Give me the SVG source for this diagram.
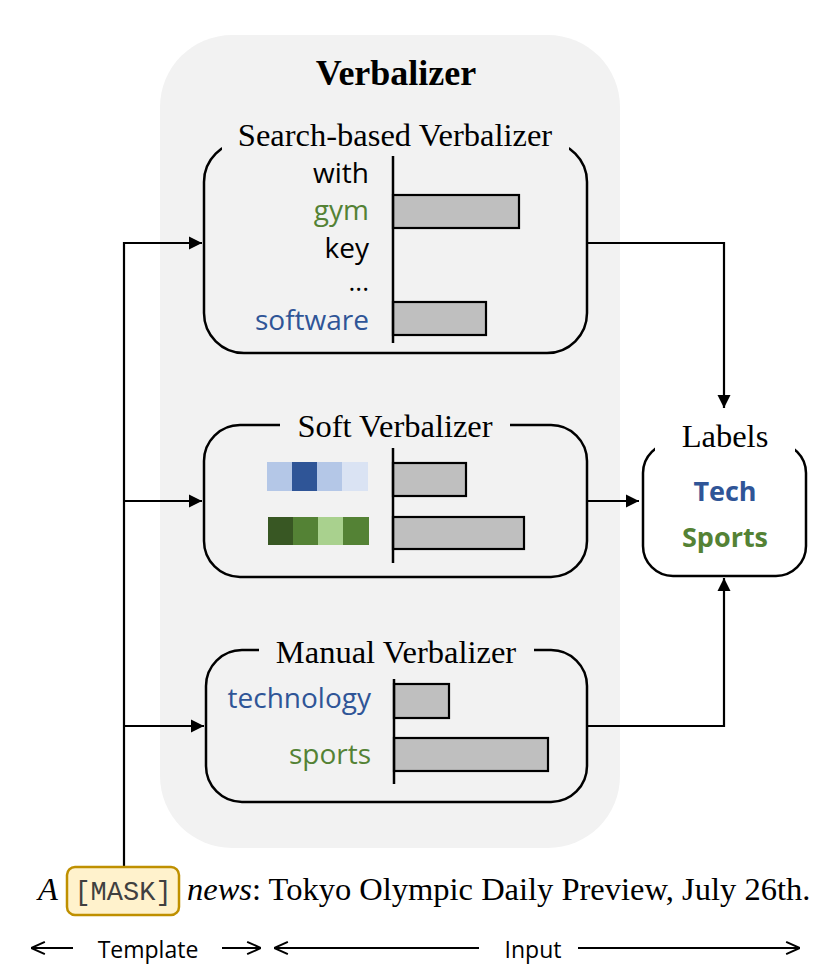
<svg xmlns="http://www.w3.org/2000/svg" width="831" height="980" viewBox="0 0 831 980">
<style>
.serif{font-family:"Liberation Serif","Times New Roman",serif;fill:#000}
.title{font-size:32.5px;text-anchor:middle}
.sans{font-family:"Open Sans","Liberation Sans",sans-serif}
.word{font-size:28px;text-anchor:end}
.box{fill:none;stroke:#000;stroke-width:2.5}
.bar{fill:#BFBFBF;stroke:#000;stroke-width:2.2}
.axis{stroke:#000;stroke-width:2.5}
.conn{fill:none;stroke:#000;stroke-width:2.2}
.blue{fill:#2F5597}
.green{fill:#548235}
</style>
<defs>
<marker id="ah" viewBox="0 0 10 10" refX="10" refY="5" markerWidth="6" markerHeight="6" orient="auto" markerUnits="strokeWidth">
<path d="M0,0 L10,5 L0,10 z" fill="#000"/>
</marker>
<marker id="sa" viewBox="0 0 10 10" refX="10" refY="5" markerWidth="7" markerHeight="7" orient="auto" markerUnits="strokeWidth">
<path d="M1,1 L10,5 L1,9" fill="none" stroke="#000" stroke-width="1.3"/>
</marker>
</defs>
<rect width="831" height="980" fill="#fff"/>

<g id="verbalizer">
<rect x="160" y="35" width="460" height="813" rx="72" fill="#F2F2F2"/>
<text class="serif" x="396" y="85" font-size="36" font-weight="bold" text-anchor="middle">Verbalizer</text>
</g>

<g id="search">
<rect class="box" x="204" y="142" width="383" height="211" rx="40"/>
<rect x="222" y="125" width="347" height="30" fill="#F2F2F2"/>
<text class="serif title" x="395" y="146">Search-based Verbalizer</text>
<text class="sans word" x="369" y="183" fill="#000">with</text>
<text class="sans word green" x="369" y="220">gym</text>
<text class="sans word" x="369" y="258" fill="#000">key</text>
<text class="sans" x="369" y="291" font-size="26" text-anchor="end" fill="#000">...</text>
<text class="sans word blue" x="369" y="330">software</text>
<rect class="bar" x="393" y="195" width="126" height="33"/>
<rect class="bar" x="393" y="302" width="93" height="33"/>
<line class="axis" x1="393" y1="156" x2="393" y2="343"/>
</g>

<g id="soft">
<rect class="box" x="204" y="425" width="383" height="152" rx="36"/>
<rect x="280" y="410" width="230" height="30" fill="#F2F2F2"/>
<text class="serif title" x="395" y="437">Soft Verbalizer</text>
<rect x="267" y="462" width="26" height="29" fill="#B4C7E7"/>
<rect x="292" y="462" width="26" height="29" fill="#2F5597"/>
<rect x="317" y="462" width="26" height="29" fill="#B4C7E7"/>
<rect x="342" y="462" width="26" height="29" fill="#DAE3F3"/>
<rect x="268" y="517" width="26" height="28" fill="#385723"/>
<rect x="293" y="517" width="26" height="28" fill="#548235"/>
<rect x="318" y="517" width="26" height="28" fill="#A9D18E"/>
<rect x="343" y="517" width="26" height="28" fill="#548235"/>
<rect class="bar" x="393" y="463" width="73" height="33"/>
<rect class="bar" x="393" y="517" width="131" height="32"/>
<line class="axis" x1="393" y1="448" x2="393" y2="563"/>
</g>

<g id="manual">
<rect class="box" x="206" y="650" width="381" height="152" rx="36"/>
<rect x="259" y="635" width="275" height="30" fill="#F2F2F2"/>
<text class="serif title" x="396" y="663">Manual Verbalizer</text>
<text class="sans word blue" x="371" y="708">technology</text>
<text class="sans word green" x="371" y="764">sports</text>
<rect class="bar" x="394" y="684" width="55" height="34"/>
<rect class="bar" x="394" y="738" width="154" height="33"/>
<line class="axis" x1="394" y1="679" x2="394" y2="784"/>
</g>

<g id="labels">
<rect class="box" x="643" y="443" width="163" height="133" rx="30"/>
<rect x="655" y="430" width="140" height="25" fill="#fff"/>
<text class="serif title" x="725" y="447">Labels</text>
<text class="sans blue" x="725" y="501" font-size="27" font-weight="bold" text-anchor="middle">Tech</text>
<text class="sans green" x="725" y="547" font-size="27" font-weight="bold" text-anchor="middle">Sports</text>
</g>

<g id="connectors">
<path class="conn" d="M124,867 V243 H202" marker-end="url(#ah)"/>
<path class="conn" d="M124,501 H202" marker-end="url(#ah)"/>
<path class="conn" d="M124,726 H204" marker-end="url(#ah)"/>
<path class="conn" d="M587,243 H724 V408" marker-end="url(#ah)"/>
<path class="conn" d="M587,501 H639" marker-end="url(#ah)"/>
<path class="conn" d="M587,726 H724 V578" marker-end="url(#ah)"/>
</g>

<g id="sentence">
<rect x="67" y="867" width="112" height="48" rx="8" fill="#FFF2CC" stroke="#BF9000" stroke-width="2.5"/>
<text x="123" y="900" font-family="'Liberation Mono','Courier New',monospace" font-size="27" fill="#404040" text-anchor="middle">[MASK]</text>
<text class="serif" x="38" y="900" font-size="32.5" font-style="italic">A</text>
<text class="serif" x="187" y="900" font-size="32.5"><tspan font-style="italic">news</tspan>: Tokyo Olympic Daily Preview, July 26th.</text>
</g>

<g id="legend">
<text class="sans" x="148" y="958" font-size="23" text-anchor="middle">Template</text>
<text class="sans" x="533" y="958" font-size="23" text-anchor="middle">Input</text>
<line class="conn" x1="73" y1="948" x2="31" y2="948" stroke-width="1.8" marker-end="url(#sa)"/>
<line class="conn" x1="222" y1="948" x2="261" y2="948" stroke-width="1.8" marker-end="url(#sa)"/>
<line class="conn" x1="479" y1="948" x2="274" y2="948" stroke-width="1.8" marker-end="url(#sa)"/>
<line class="conn" x1="578" y1="948" x2="800" y2="948" stroke-width="1.8" marker-end="url(#sa)"/>
</g>
</svg>
